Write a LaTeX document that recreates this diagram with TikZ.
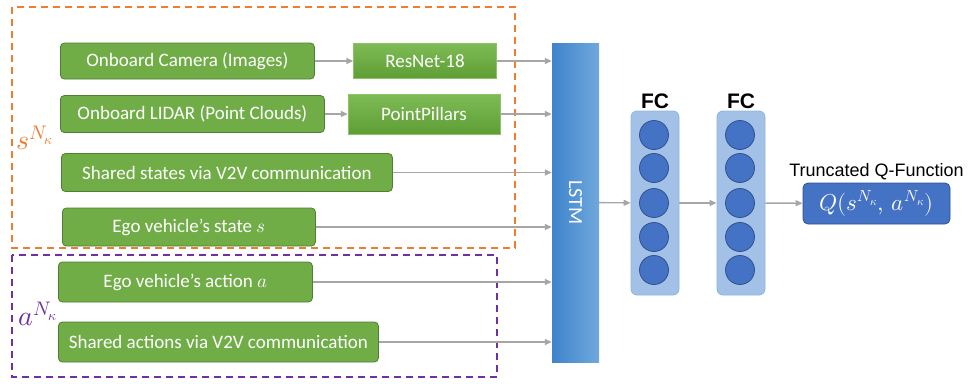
\documentclass[tikz,border=0pt]{standalone}
\usepackage{fontspec}
\usepackage{unicode-math}
\setmainfont{Carlito}
\setmathfont{Latin Modern Math}
\newfontfamily\arialfont{Liberation Sans}
\usetikzlibrary{arrows.meta,positioning}
\definecolor{inputgreen}{HTML}{70AD47}
\definecolor{inputborder}{HTML}{507E32}
\definecolor{arrowgray}{HTML}{A6A6A6}
\definecolor{sorange}{HTML}{ED7D31}
\definecolor{apurple}{HTML}{7030A0}
\definecolor{qblue}{HTML}{4472C4}
\definecolor{qborder}{HTML}{2F528F}
\definecolor{layerblue}{HTML}{A3C1E7}
\definecolor{layerborder}{HTML}{8EB4E3}
\begin{document}
\begin{tikzpicture}
[x=1pt,y=-1pt,
 inputdecorate/.style={shape=rectangle,rounded corners=4pt,draw=inputborder,thick,
   fill=inputgreen,text=white,font=\fontsize{19}{22}\selectfont,anchor=west,inner sep=0pt},%
 encoderdecorate/.style={shape=rectangle,draw={rgb,255:red,140;green,195;blue,100},
   top color={rgb,255:red,126;green,187;blue,86},bottom color={rgb,255:red,94;green,158;blue,52},
   text=white,font=\fontsize{19}{22}\selectfont,inner sep=0pt},%
 lstmdecorate/.style={shape=rectangle,rotate=-90,inner sep=0pt,
   left color={rgb,255:red,62;green,132;blue,204},right color={rgb,255:red,112;green,168;blue,220},
   text=white,font=\fontsize{20}{24}\selectfont,minimum width=319pt,minimum height=47pt},%
 layerdecorate/.style={shape=rectangle,rounded corners=6pt,draw=layerborder,fill=layerblue,
   thick,minimum width=48pt,minimum height=184pt},%
 neurondecorate/.style={shape=circle,draw=qborder,fill=qblue,thick,minimum size=29pt,inner sep=0pt},%
 qdecorate/.style={shape=rectangle,rounded corners=5pt,draw=qborder,fill=qblue,thick,text=white,
   font=\fontsize{23}{26}\selectfont,minimum width=147pt,minimum height=41pt,inner sep=0pt},%
 fcdecorate/.style={font=\arialfont\bfseries\fontsize{21}{24}\selectfont,inner sep=0pt},%
 framedecorate/.style={line width=1.6pt,dash pattern=on 7pt off 5pt},%
 linedecorate/.style={-{Triangle[length=7pt,width=6pt]},line width=1.4pt,draw=arrowgray}]
\useasboundingbox (0,0) rectangle (977,383);
%% dashed groups
\draw[framedecorate,draw=sorange] (12,7) rectangle (515,248);
\draw[framedecorate,draw=apurple] (12,255) rectangle (497,377);
\node[text=sorange,font=\fontsize{28}{32}\selectfont] (slab) at (35,138) {$s^{N_\kappa}$};
\node[text=apurple,font=\fontsize{28}{32}\selectfont] (alab) at (38,314) {$a^{N_\kappa}$};
%% inputs
\foreach \nodename/\x/\y/\w/\h/\txt in {cam/60/61/254/36/{Onboard Camera (Images)},
  lidar/60/114/264/37/{Onboard LIDAR (Point Clouds)},
  shst/61/172.5/331/38/{Shared states via V2V communication},
  egos/62/227/253/38/{Ego vehicle’s state $s$},
  egoa/58/282/254/40/{Ego vehicle’s action $a$},
  shac/58/342/320/40/{Shared actions via V2V communication}}
{
  \node (\nodename) at (\x,\y) [inputdecorate,minimum width=\w pt,minimum height=\h pt] {\txt};
}
\node (resnet) at (425,61) [encoderdecorate,minimum width=143pt,minimum height=35pt] {ResNet-18};
\node (pillars) at (424,114) [encoderdecorate,minimum width=152pt,minimum height=40pt] {PointPillars};
\node (lstm) at (575.5,202.5) [lstmdecorate] {LSTM};
%% fully connected layers
\node (fc1) at (655,203) [layerdecorate] {};
\node (fc2) at (741,203) [layerdecorate] {};
\foreach \i/\y in {1/135, 2/168, 3/203, 4/237, 5/270}
{
  \node (na\i) at (654,\y) [neurondecorate] {};
  \node (nb\i) at (740,\y) [neurondecorate] {};
}
\node[above=2pt of fc1,fcdecorate] (fc1lab) {FC};
\node[above=2pt of fc2,fcdecorate] (fc2lab) {FC};
\node (qfun) at (876.5,203.5) [qdecorate] {$Q(s^{N_\kappa},\,a^{N_\kappa})$};
\node[above=3pt of qfun,font=\arialfont\fontsize{18}{21}\selectfont,inner sep=0pt] (qlab) {Truncated Q-Function};
%% edges
\path
\foreach \startnode/\endnode in {cam/resnet, lidar/pillars} {
  (\startnode) edge[linedecorate] (\endnode)
};
\foreach \startnode in {resnet, pillars, shst, egos, egoa, shac} {
  \draw[linedecorate] (\startnode.east) -- (\startnode.east -| lstm.south);
}
\path
\foreach \startnode/\endnode in {lstm/fc1, fc1/fc2, fc2/qfun} {
  (\startnode) edge[linedecorate] (\endnode)
};
\end{tikzpicture}
\end{document}
